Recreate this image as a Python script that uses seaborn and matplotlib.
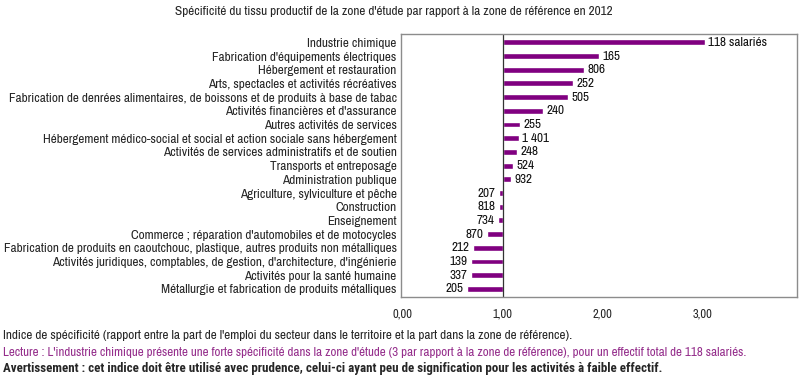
import matplotlib
matplotlib.use('Agg')
import matplotlib.pyplot as plt
import seaborn as sns
import pandas as pd

secteurs = [
    "Industrie chimique",
    "Fabrication d'équipements électriques",
    "Hébergement et restauration",
    "Arts, spectacles et activités récréatives",
    "Fabrication de denrées alimentaires, de boissons et de produits à base de tabac",
    "Activités financières et d'assurance",
    "Autres activités de services",
    "Hébergement médico-social et social et action sociale sans hébergement",
    "Activités de services administratifs et de soutien",
    "Transports et entreposage",
    "Administration publique",
    "Agriculture, sylviculture et pêche",
    "Construction",
    "Enseignement",
    "Commerce ; réparation d'automobiles et de motocycles",
    "Fabrication de produits en caoutchouc, plastique, autres produits non métalliques",
    "Activités juridiques, comptables, de gestion, d'architecture, d'ingénierie",
    "Activités pour la santé humaine",
    "Métallurgie et fabrication de produits métalliques",
]
indice = [3.02, 1.96, 1.81, 1.70, 1.65, 1.40, 1.17, 1.16, 1.14, 1.10,
          1.08, 0.96, 0.96, 0.95, 0.84, 0.70, 0.68, 0.68, 0.64]
effectifs = ["118 salariés", "165", "806", "252", "505", "240", "255",
             "1 401", "248", "524", "932", "207", "818", "734", "870",
             "212", "139", "337", "205"]

sns.set_theme(style='white')
plt.rcParams['font.family'] = ['Archivo Narrow', 'DejaVu Sans']
plt.rcParams['font.size'] = 9.5

violet = '#800080'
df = pd.DataFrame({'secteur': secteurs, 'ecart': [v - 1 for v in indice]})

fig = plt.figure(figsize=(8, 3.92), dpi=100)
ax = fig.add_axes([0.501, 0.242, 0.495, 0.671])

sns.barplot(data=df, y='secteur', x='ecart', orient='h', color=violet,
            saturation=1, width=0.43, left=1, ax=ax)

for i, (v, lab) in enumerate(zip(indice, effectifs)):
    if v >= 1:
        ax.annotate(lab, (v, i), xytext=(2.5, 0), textcoords='offset points',
                    ha='left', va='center', fontsize=9.5, color='#111111')
    else:
        ax.annotate(lab, (v, i), xytext=(-2.5, 0), textcoords='offset points',
                    ha='right', va='center', fontsize=9.5, color='#111111')

ax.axvline(1, color='#333333', linewidth=0.9)
ax.set_xlim(-0.02, 3.94)
ax.set_ylim(18.6, -0.6)
ax.set_xticks([0, 1, 2, 3])
ax.set_xticklabels(['0,00', '1,00', '2,00', '3,00'], fontsize=9)
ax.tick_params(axis='x', length=0, pad=8)
ax.tick_params(axis='y', length=0, pad=3, labelsize=9.5)
ax.set_xlabel('')
ax.set_ylabel('')
for s in ax.spines.values():
    s.set_color('#8c8c8c')
    s.set_linewidth(1.0)

fig.text(0.492, 0.985,
         "Spécificité du tissu productif de la zone d'étude par rapport à la zone de référence en 2012",
         ha='center', va='top', fontsize=9.5)
fig.text(0.004, 0.145,
         "Indice de spécificité (rapport entre la part de l'emploi du secteur dans le territoire et la part dans la zone de référence).",
         ha='left', va='center', fontsize=9.5)
fig.text(0.004, 0.102,
         "Lecture : L'industrie chimique présente une forte spécificité dans la zone d'étude (3 par rapport à la zone de référence), pour un effectif total de 118 salariés.",
         ha='left', va='center', fontsize=9.4, color='#952f8c')
fig.text(0.004, 0.060,
         "Avertissement : cet indice doit être utilisé avec prudence, celui-ci ayant peu de signification pour les activités à faible effectif.",
         ha='left', va='center', fontsize=9.4, fontweight='bold',
         family=['Roboto Condensed', 'DejaVu Sans'])

fig.savefig('out.png', dpi=100)
